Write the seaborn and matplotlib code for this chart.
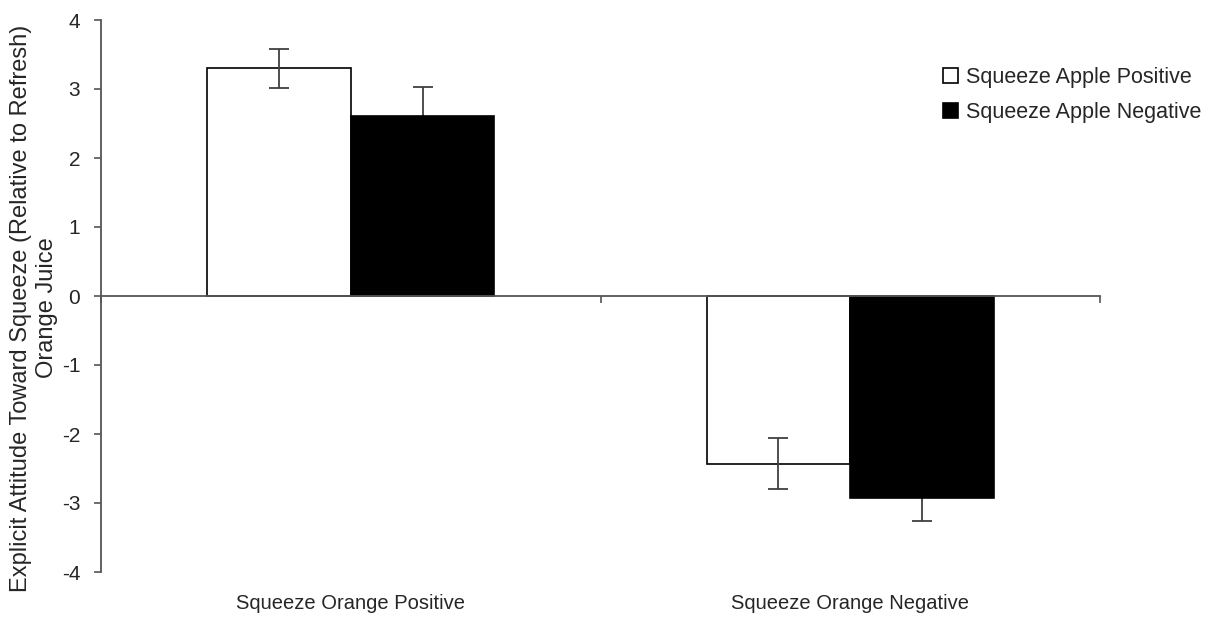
import pandas as pd
import matplotlib.pyplot as plt
import seaborn as sns

# datos
condiciones = ['Squeeze Orange Positive', 'Squeeze Orange Negative']
grupos = ['Squeeze Apple Positive', 'Squeeze Apple Negative']
medias_pos = [3.30, -2.43]
medias_neg = [2.61, -2.93]
err_pos = [0.28, 0.37]
err_neg = [0.42, 0.33]

df = pd.DataFrame({
    'condicion': condiciones * 2,
    'grupo': [grupos[0]] * 2 + [grupos[1]] * 2,
    'valor': medias_pos + medias_neg,
    'err': err_pos + err_neg,
})

sns.set_style('white')
plt.rcParams['font.family'] = ['Liberation Sans', 'DejaVu Sans']
plt.rcParams['axes.unicode_minus'] = False

fig = plt.figure(figsize=(12.12, 6.18), dpi=100)
ax = fig.add_axes([101 / 1212, 1 - 572 / 618, 999 / 1212, 552 / 618])

sns.barplot(data=df, x='condicion', y='valor', hue='grupo', order=condiciones,
            hue_order=grupos, palette=['white', 'black'], edgecolor='black',
            linewidth=1.2, width=0.575, errorbar=None, ax=ax)

# barras de error: la blanca por encima, la negra por detras (queda oculta dentro)
for barras, g in zip(ax.containers, grupos):
    sub = df[df['grupo'] == g].set_index('condicion').loc[condiciones]
    xs = [b.get_x() + b.get_width() / 2 for b in barras]
    z = 3 if g == grupos[0] else 0.5
    ax.errorbar(xs, sub['valor'], yerr=sub['err'], fmt='none', ecolor='#404040',
                elinewidth=1.3, capsize=7, capthick=1.3, zorder=z)

ax.set_xlim(-0.5, 1.5)
ax.set_ylim(-4, 4)
ax.set_yticks(range(-4, 5))
ax.tick_params(axis='y', labelsize=15, direction='out', length=5, width=1.2,
               color='#555555', left=True, pad=10)

# eje x en cero con marcas entre categorias
ax.spines['bottom'].set_position(('data', 0))
ax.spines['top'].set_visible(False)
ax.spines['right'].set_visible(False)
for s in ['left', 'bottom']:
    ax.spines[s].set_color('#555555')
    ax.spines[s].set_linewidth(1.3)
ax.set_xticks([-0.5, 0.5, 1.5])
ax.set_xticklabels([])
ax.tick_params(axis='x', direction='out', length=5, width=1.2, color='#555555', bottom=True)
ax.set_xlabel('')
ax.set_ylabel('')

for i, c in enumerate(condiciones):
    ax.text(i, -0.04, c, transform=ax.get_xaxis_transform(), ha='center', va='top',
            fontsize=14.5)

fig.text(34 / 1212, 1 - 308 / 618,
         'Explicit Attitude Toward Squeeze (Relative to Refresh)\nOrange Juice',
         rotation=90, ha='center', va='center', multialignment='center', fontsize=17)

handles, labels = ax.get_legend_handles_labels()
ax.legend_.remove()
fig.legend(handles, labels, loc='upper right', bbox_to_anchor=(0.998, 0.906),
           borderaxespad=0, frameon=False, fontsize=15.5, handlelength=0.7,
           handleheight=0.7, handletextpad=0.35, labelspacing=0.65)

plt.savefig('out.png', dpi=100)
